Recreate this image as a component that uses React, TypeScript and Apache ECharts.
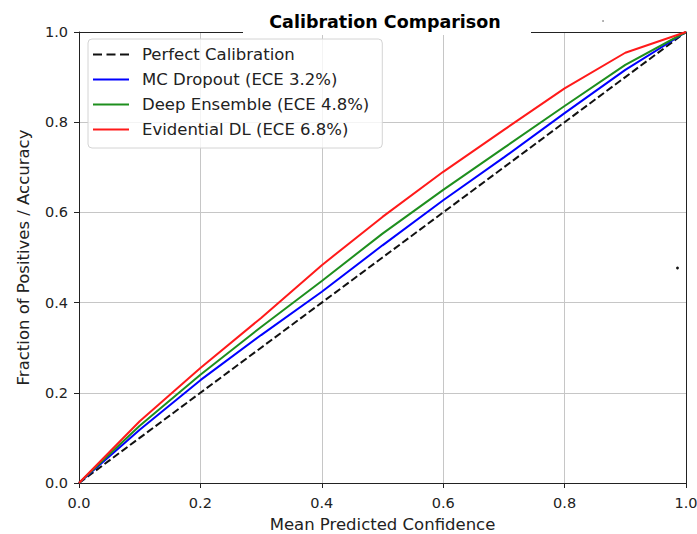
import React, { useEffect, useRef } from "react";
import * as echarts from "echarts";

const confidence = [0, 0.1, 0.2, 0.3, 0.4, 0.5, 0.6, 0.7, 0.8, 0.9, 1.0];
const perfect = [0, 0.1, 0.2, 0.3, 0.4, 0.5, 0.6, 0.7, 0.8, 0.9, 1.0];
const mcDropout = [0, 0.118, 0.228, 0.328, 0.424, 0.527, 0.627, 0.722, 0.82, 0.916, 1.0];
const deepEnsemble = [0, 0.127, 0.24, 0.346, 0.448, 0.553, 0.65, 0.743, 0.836, 0.927, 1.0];
const evidential = [0, 0.137, 0.255, 0.366, 0.483, 0.59, 0.69, 0.783, 0.875, 0.954, 1.0];

const seriesNames = [
  "Perfect Calibration",
  "MC Dropout (ECE 3.2%)",
  "Deep Ensemble (ECE 4.8%)",
  "Evidential DL (ECE 6.8%)",
];
const titleText = "Calibration Comparison";
const xName = "Mean Predicted Confidence";
const yName = "Fraction of Positives / Accuracy";

const FONT = "DejaVu Sans";
const DASH_ICON = "path://M0,0H9V2H0Z M13.5,0H22.5V2H13.5Z M27,0H36V2H27Z";
const SOLID_ICON = "path://M0,0H36V2H0Z";

export default function App() {
  const ref = useRef<HTMLDivElement>(null);
  useEffect(() => {
    if (!ref.current) return;
    const chart = echarts.init(ref.current, null, { renderer: "svg" });
    const pairs = (ys: number[]) => confidence.map((x, i) => [x, ys[i]]);
    const axisLineStyle = { color: "#222", width: 1 };
    const mkLine = (name: string, ys: number[], color: string, type: any, width: number) => ({
      name,
      type: "line",
      data: pairs(ys),
      showSymbol: false,
      symbol: "none",
      lineStyle: { color, width, type },
      itemStyle: { color },
      emphasis: { disabled: true },
    });
    chart.setOption({
      animation: false,
      backgroundColor: "#fff",
      grid: { left: 79, right: 11, top: 32, bottom: 51, outerBoundsMode: "none", containLabel: false },
      xAxis: [
        {
          type: "value",
          min: 0,
          max: 1,
          interval: 0.2,
          position: "bottom",
          name: xName,
          nameLocation: "middle",
          nameGap: 33,
          nameTextStyle: { fontFamily: FONT, fontSize: 16.5, color: "#222" },
          axisLine: { show: true, onZero: false, lineStyle: axisLineStyle },
          axisTick: { show: true, length: 5, lineStyle: axisLineStyle },
          axisLabel: {
            fontFamily: FONT,
            fontSize: 14.5,
            color: "#222",
            margin: 12,
            formatter: (v: number) => v.toFixed(1),
          },
          splitLine: { show: true, lineStyle: { color: "#c6c6c6", width: 1 } },
        },
        {
          type: "value",
          min: 0,
          max: 1,
          position: "top",
          axisLine: { show: true, onZero: false, lineStyle: axisLineStyle },
          axisTick: { show: false },
          axisLabel: { show: false },
          splitLine: { show: false },
        },
      ],
      yAxis: [
        {
          type: "value",
          min: 0,
          max: 1,
          interval: 0.2,
          position: "left",
          name: yName,
          nameLocation: "middle",
          nameGap: 47,
          nameTextStyle: { fontFamily: FONT, fontSize: 16.5, color: "#222" },
          axisLine: { show: true, onZero: false, lineStyle: axisLineStyle },
          axisTick: { show: true, length: 5, lineStyle: axisLineStyle },
          axisLabel: {
            fontFamily: FONT,
            fontSize: 14.5,
            color: "#222",
            margin: 11,
            formatter: (v: number) => v.toFixed(1),
          },
          splitLine: { show: true, lineStyle: { color: "#c6c6c6", width: 1 } },
        },
        {
          type: "value",
          min: 0,
          max: 1,
          position: "right",
          axisLine: { show: true, onZero: false, lineStyle: axisLineStyle },
          axisTick: { show: false },
          axisLabel: { show: false },
          splitLine: { show: false },
        },
      ],
      legend: {
        orient: "vertical",
        left: 88,
        top: 39,
        padding: [6, 13, 9, 5],
        itemGap: 6,
        itemWidth: 36,
        itemHeight: 2,
        backgroundColor: "rgba(255,255,255,0.8)",
        borderColor: "#d4d4d4",
        borderWidth: 1,
        borderRadius: 4,
        textStyle: { fontFamily: FONT, fontSize: 16.5, color: "#222", lineHeight: 19, padding: [0, 0, 0, 8] },
        data: [
          { name: seriesNames[0], icon: DASH_ICON },
          { name: seriesNames[1], icon: SOLID_ICON },
          { name: seriesNames[2], icon: SOLID_ICON },
          { name: seriesNames[3], icon: SOLID_ICON },
        ],
      },
      series: [
        mkLine(seriesNames[0], perfect, "#111", [7.4, 3.2], 2),
        mkLine(seriesNames[1], mcDropout, "#0000ff", "solid", 2),
        mkLine(seriesNames[2], deepEnsemble, "#1e8f1e", "solid", 2),
        mkLine(seriesNames[3], evidential, "#ff1a1a", "solid", 2),
      ],
      graphic: {
        z: 100,
        elements: [
          { type: "rect", z: 100, shape: { x: 243, y: 8, width: 288, height: 27 }, style: { fill: "#fff" } },
          {
            type: "text",
            z: 101,
            x: 385,
            y: 22,
            style: {
              text: titleText,
              fontFamily: FONT,
              fontWeight: "bold",
              fontSize: 17.5,
              fill: "#000",
              textAlign: "center",
              textVerticalAlign: "middle",
            },
          },
          { type: "circle", z: 101, shape: { cx: 603, cy: 21, r: 0.8 }, style: { fill: "#888" } },
          { type: "circle", z: 101, shape: { cx: 677.5, cy: 268, r: 1.4 }, style: { fill: "#111" } },
        ],
      },
    });
    return () => chart.dispose();
  }, []);
  return (
    <div
      ref={ref}
      style={{ position: "fixed", left: 0, top: 0, width: 697, height: 534, background: "#fff" }}
    />
  );
}
